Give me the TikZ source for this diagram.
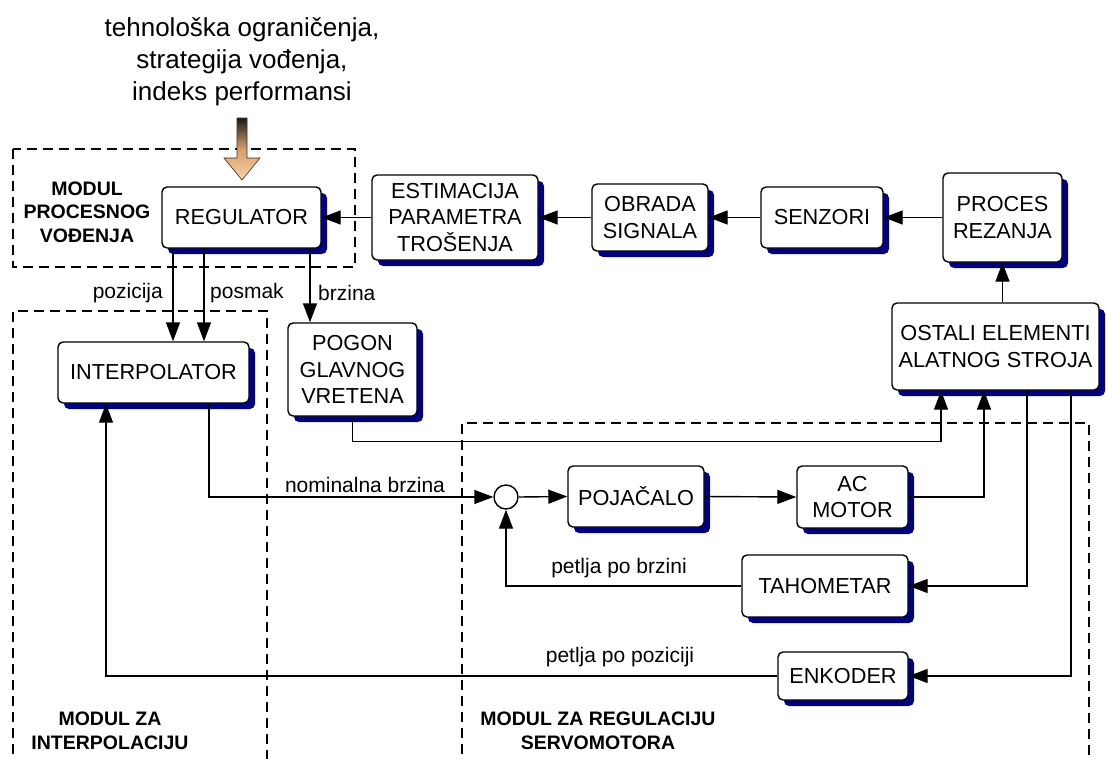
\documentclass[tikz,border=0pt]{standalone}
\usepackage{fontspec}
\setmainfont{Liberation Sans}
\usetikzlibrary{arrows.meta,shadows,calc}
\definecolor{shadowblue}{RGB}{0,0,128}
\definecolor{tanlight}{RGB}{250,210,165}
\definecolor{tanmid}{RGB}{215,160,110}
\definecolor{arrdark}{RGB}{60,45,35}
\newcommand\bxf{\fontsize{21.7}{26.5}\selectfont}
\newcommand\lblf{\fontsize{21}{25}\selectfont}
\newcommand\topf{\fontsize{26}{32}\selectfont}
\newcommand\modf{\fontsize{19.5}{23.5}\selectfont\bfseries}
\begin{document}
\begin{tikzpicture}[x=1pt,y=-1pt,
  blk/.style={draw, line width=1.4pt, rounded corners=5pt, fill=white, align=center,
    inner sep=0pt, font=\bxf,
    drop shadow={shadow xshift=6pt,shadow yshift=-6pt,fill=shadowblue,opacity=1,draw=none}},
  arr/.style={line width=1.4pt, -{Triangle[length=19pt,width=14pt]}},
  dsh/.style={line width=2.4pt, dash pattern=on 10pt off 6pt},
  lbl/.style={font=\lblf, inner sep=0pt},
  modl/.style={font=\modf, align=center, inner sep=0pt}]
\useasboundingbox (0,0) rectangle (1106,758);
\fill[white] (0,0) rectangle (1106,758);

% dashed module frames
\draw[dsh] (13,149) rectangle (355,267);
\draw[dsh] (13,770) -- (13,311) -- (267,311) -- (267,770);
\draw[dsh] (462,770) -- (462,423) -- (1089,423) -- (1089,770);

% top text and input arrow
\node[font=\topf, align=center, inner sep=0pt] (txt) at (242,62)
  {tehnološka ograničenja,\\strategija vođenja,\\indeks performansi};
\shade[top color=black!90, bottom color=tanlight, middle color=tanmid, draw=arrdark, line width=0.6pt]
  (237,118) -- (247,118) -- (247,158) -- (260,158) -- (242,180) -- (224,158) -- (237,158) -- cycle;

% blocks
\node[blk, minimum width=159pt, minimum height=61pt] (REG) at (241.5,217.5) {REGULATOR};
\node[blk, minimum width=166pt, minimum height=85pt] (EST) at (455,217.5) {ESTIMACIJA\\PARAMETRA\\TROŠENJA};
\node[blk, minimum width=116pt, minimum height=67pt] (OBR) at (650,217.5) {OBRADA\\SIGNALA};
\node[blk, minimum width=122pt, minimum height=61pt] (SEN) at (822,217.5) {SENZORI};
\node[blk, minimum width=119pt, minimum height=89pt] (PRO) at (1002.5,217.5) {PROCES\\REZANJA};
\node[blk, minimum width=207pt, minimum height=87pt] (OST) at (995.5,346.5) {OSTALI ELEMENTI\\ALATNOG STROJA};
\node[blk, minimum width=191pt, minimum height=61pt] (INT) at (153.5,372.5) {INTERPOLATOR};
\node[blk, minimum width=129pt, minimum height=93pt] (POG) at (352.5,369.5) {POGON\\GLAVNOG\\VRETENA};
\node[blk, minimum width=136pt, minimum height=61pt] (POJ) at (636,496.5) {POJAČALO};
\node[blk, minimum width=111pt, minimum height=62pt] (ACM) at (852.5,497) {AC\\MOTOR};
\node[blk, minimum width=166pt, minimum height=62pt] (TAH) at (825,586) {TAHOMETAR};
\node[blk, minimum width=130pt, minimum height=48pt] (ENK) at (843,676) {ENKODER};
\node[draw, circle, line width=1.4pt, fill=white, minimum size=24pt, inner sep=0pt] (SUM) at (506,497) {};

% connectors
\draw[arr] (EST.west) -- (REG.east);
\draw[arr] (OBR.west) -- (EST.east);
\draw[arr] (SEN.west) -- (OBR.east);
\draw[arr] (PRO.west) -- (SEN.east);
\draw[arr] (PRO.south |- OST.north) -- (PRO.south);
\draw[arr] (173,0 |- REG.south) -- (173,0 |- INT.north);
\draw[arr] (204,0 |- REG.south) -- (204,0 |- INT.north);
\draw[arr] (310,0 |- REG.south) -- (310,0 |- POG.north);
\draw[arr] (209,0 |- INT.south) |- (SUM.west);
\draw[arr] (SUM.east) -- (POJ.west);
\draw[arr] (POJ.east) -- (ACM.west);
\draw[arr] (ACM.east) -| (984,0 |- OST.south);
\draw[arr] (POG.south) -- ++(0,25) -| (941,0 |- OST.south);
\draw[arr] (1027,0 |- OST.south) |- (TAH.east);
\draw[arr] (1071,0 |- OST.south) |- (ENK.east);
\draw[arr] (TAH.west) -| (SUM.south);
\draw[arr] (ENK.west) -| (106,0 |- INT.south);

% labels
\node[lbl, anchor=east] (lpoz) at (163,293) {pozicija};
\node[lbl, anchor=west] (lpos) at (210,293) {posmak};
\node[lbl, anchor=west] (lbrz) at (318,293) {brzina};
\node[lbl] (lnom) at (365,485) {nominalna brzina};
\node[lbl] (lpb) at (619,568) {petlja po brzini};
\node[lbl] (lpp) at (620,657) {petlja po poziciji};

% module names
\node[modl] (m1) at (87,212) {MODUL\\PROCESNOG\\VOĐENJA};
\node[modl] (m2) at (110,731) {MODUL ZA\\INTERPOLACIJU};
\node[modl] (m3) at (598,731) {MODUL ZA REGULACIJU\\SERVOMOTORA};
\end{tikzpicture}
\end{document}
